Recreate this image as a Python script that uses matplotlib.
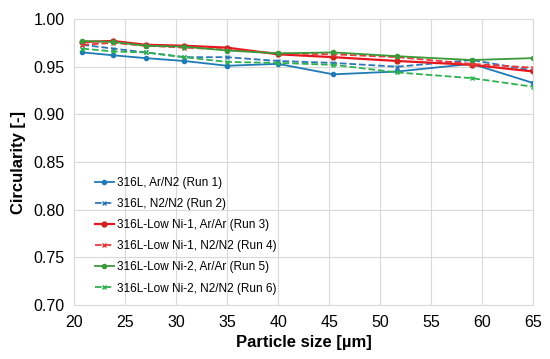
import matplotlib
matplotlib.use('Agg')
import matplotlib.pyplot as plt

plt.rcParams['font.family'] = ['Liberation Sans', 'DejaVu Sans']

size = [20.8, 23.8, 27.0, 30.8, 35.0, 40.0, 45.4, 51.7, 59.0, 65.0]

run1 = [0.965, 0.962, 0.959, 0.956, 0.951, 0.953, 0.942, 0.945, 0.953, 0.933]
run2 = [0.973, 0.969, 0.965, 0.960, 0.960, 0.956, 0.954, 0.950, 0.957, 0.946]
run3 = [0.976, 0.977, 0.973, 0.972, 0.970, 0.963, 0.960, 0.956, 0.952, 0.945]
run4 = [0.973, 0.975, 0.972, 0.970, 0.968, 0.964, 0.963, 0.960, 0.953, 0.949]
run5 = [0.977, 0.976, 0.972, 0.971, 0.967, 0.964, 0.965, 0.961, 0.957, 0.959]
run6 = [0.969, 0.966, 0.965, 0.960, 0.955, 0.954, 0.952, 0.944, 0.938, 0.929]

labels = ['316L, Ar/N2 (Run 1)', '316L, N2/N2 (Run 2)',
          '316L-Low Ni-1, Ar/Ar (Run 3)', '316L-Low Ni-1, N2/N2 (Run 4)',
          '316L-Low Ni-2, Ar/Ar (Run 5)', '316L-Low Ni-2, N2/N2 (Run 6)']

fig, ax = plt.subplots(figsize=(5.5, 3.59), dpi=100)
fig.subplots_adjust(left=0.135, right=0.969, top=0.947, bottom=0.150)

ax.plot(size, run1, '-', color='#1f7ab5', lw=1.3, marker='o', ms=3, label=labels[0])
ax.plot(size, run2, '--', color='#2e75b6', lw=1.3, marker='x', ms=3, label=labels[1])
ax.plot(size, run3, '-', color='#e8171f', lw=1.6, marker='o', ms=3.5, mec='#b5301f', label=labels[2])
ax.plot(size, run4, '--', color='#e83a3a', lw=1.3, marker='x', ms=3, label=labels[3])
ax.plot(size, run5, '-', color='#3a9a3a', lw=1.3, marker='o', ms=3, label=labels[4])
ax.plot(size, run6, '--', color='#2fb150', lw=1.3, marker='x', ms=3, label=labels[5])

ax.set_xlim(20, 65)
ax.set_ylim(0.70, 1.00)
ax.set_xticks(range(20, 66, 5))
ax.set_yticks([0.70, 0.75, 0.80, 0.85, 0.90, 0.95, 1.00])
ax.set_yticklabels(['%.2f' % v for v in ax.get_yticks()])
ax.grid(True, color='#d9d9d9', lw=0.8)
ax.set_axisbelow(True)
for s in ax.spines.values():
    s.set_color('#d9d9d9')
ax.tick_params(length=0, labelsize=11.5, pad=7)

ax.set_xlabel('Particle size [µm]', fontsize=12, fontweight='bold', labelpad=4)
ax.set_ylabel('Circularity [-]', fontsize=12, fontweight='bold', labelpad=5)

ax.legend(loc='lower left', bbox_to_anchor=(0.022, 0.0), frameon=False,
          fontsize=8.5, handlelength=1.6, handletextpad=0.25, labelspacing=0.77)

fig.savefig('out.png', dpi=100)
